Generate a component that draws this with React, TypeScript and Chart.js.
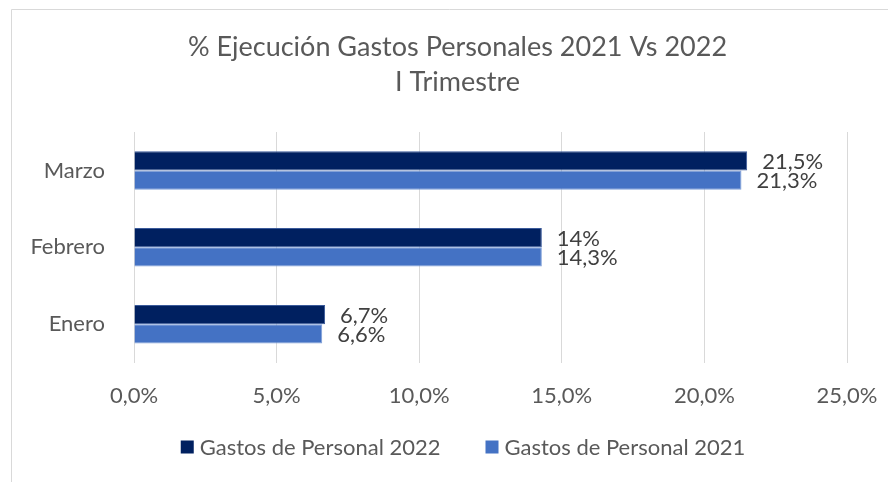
import React, { useEffect, useRef } from "react";
import { Chart, registerables } from "chart.js";

Chart.register(...registerables);

const categories = ["Marzo", "Febrero", "Enero"];
const seriesNames = ["Gastos de Personal 2022", "Gastos de Personal 2021"];
const seriesColors = ["#002060", "#4472C4"];
const values2022 = [21.5, 14.3, 6.7];
const values2021 = [21.3, 14.3, 6.6];
const labels2022 = ["21,5%", "14%", "6,7%"];
const labels2021 = ["21,3%", "14,3%", "6,6%"];
const titleLines = ["% Ejecución Gastos Personales 2021 Vs 2022", "I Trimestre"];
const xMin = 0;
const xMax = 25;
const xStep = 5;

const FONT = "Lato, 'Open Sans', sans-serif";
const TEXT = "#595959";

const borderPlugin = {
  id: "frame",
  beforeDraw(chart: any) {
    const { ctx, width, height } = chart;
    ctx.save();
    ctx.fillStyle = "#ffffff";
    ctx.fillRect(0, 0, width, height);
    ctx.strokeStyle = "#d9d9d9";
    ctx.lineWidth = 1;
    ctx.beginPath();
    ctx.moveTo(11.5, height);
    ctx.lineTo(11.5, 9.5);
    ctx.lineTo(width, 9.5);
    ctx.stroke();
    ctx.restore();
  },
};

const titlePlugin = {
  id: "customTitle",
  afterDraw(chart: any) {
    const { ctx } = chart;
    ctx.save();
    ctx.font = `27px ${FONT}`;
    ctx.fillStyle = TEXT;
    ctx.textAlign = "center";
    ctx.textBaseline = "middle";
    titleLines.forEach((t, i) => {
      ctx.fillText(t, 457.5, 47 + i * 35);
    });
    ctx.restore();
  },
};

const dataLabelPlugin = {
  id: "dataLabels",
  afterDatasetsDraw(chart: any) {
    const { ctx } = chart;
    const all = [labels2022, labels2021];
    ctx.save();
    ctx.font = `22px ${FONT}`;
    ctx.fillStyle = "#404040";
    ctx.textAlign = "left";
    ctx.textBaseline = "middle";
    chart.data.datasets.forEach((_ds: any, di: number) => {
      const meta = chart.getDatasetMeta(di);
      meta.data.forEach((el: any, i: number) => {
        ctx.fillText(all[di][i], el.x + 15, el.y + 1);
      });
    });
    ctx.restore();
  },
};

const legendPlugin = {
  id: "customLegend",
  afterDraw(chart: any) {
    const { ctx } = chart;
    ctx.save();
    ctx.font = `22px ${FONT}`;
    ctx.textBaseline = "middle";
    ctx.textAlign = "left";
    const box = 13;
    const gapText = 6;
    const gapItem = 45;
    const widths = seriesNames.map((n) => ctx.measureText(n).width);
    const total = widths.reduce((a, w) => a + box + gapText + w, 0) + gapItem * (seriesNames.length - 1);
    let x = 463 - total / 2;
    const y = 447;
    seriesNames.forEach((n, i) => {
      ctx.fillStyle = seriesColors[i];
      ctx.fillRect(x, y - box / 2, box, box);
      x += box + gapText;
      ctx.fillStyle = TEXT;
      ctx.fillText(n, x, y + 1);
      x += widths[i] + gapItem;
    });
    ctx.restore();
  },
};

export default function App() {
  const ref = useRef<HTMLCanvasElement>(null);
  useEffect(() => {
    if (!ref.current) return;
    const chart = new Chart(ref.current, {
      type: "bar",
      data: {
        labels: categories,
        datasets: [
          {
            label: seriesNames[0],
            data: values2022,
            backgroundColor: seriesColors[0],
            borderColor: "#3a5a9a",
            borderWidth: 1,
            barPercentage: 1,
            categoryPercentage: 0.5,
          },
          {
            label: seriesNames[1],
            data: values2021,
            backgroundColor: seriesColors[1],
            borderColor: "#7f9fd8",
            borderWidth: 1,
            barPercentage: 1,
            categoryPercentage: 0.5,
          },
        ],
      },
      options: {
        indexAxis: "y",
        responsive: false,
        animation: false,
        layout: { padding: { left: 14, right: 41, top: 132, bottom: 53 } },
        scales: {
          x: {
            min: xMin,
            max: xMax,
            afterFit: (scale: any) => {
              scale.paddingLeft = 0;
              scale.paddingRight = 0;
            },
            ticks: {
              stepSize: xStep,
              color: TEXT,
              font: { family: FONT, size: 22 },
              padding: 20,
              callback: (v: any) => Number(v).toFixed(1).replace(".", ",") + "%",
            },
            grid: { color: "#d9d9d9", lineWidth: 1, drawTicks: false },
            border: { display: false },
          },
          y: {
            afterFit: (scale: any) => {
              scale.width = 120;
            },
            ticks: {
              color: TEXT,
              font: { family: FONT, size: 22 },
              padding: 29,
            },
            grid: { display: false, drawTicks: false },
            border: { display: false },
          },
        },
        plugins: {
          title: { display: false },
          legend: { display: false },
          tooltip: { enabled: false },
        },
      },
      plugins: [borderPlugin, titlePlugin, dataLabelPlugin, legendPlugin],
    });
    return () => chart.destroy();
  }, []);
  return (
    <div style={{ position: "fixed", left: 0, top: 0, width: 888, height: 482 }}>
      <canvas ref={ref} width={888} height={482} />
    </div>
  );
}
